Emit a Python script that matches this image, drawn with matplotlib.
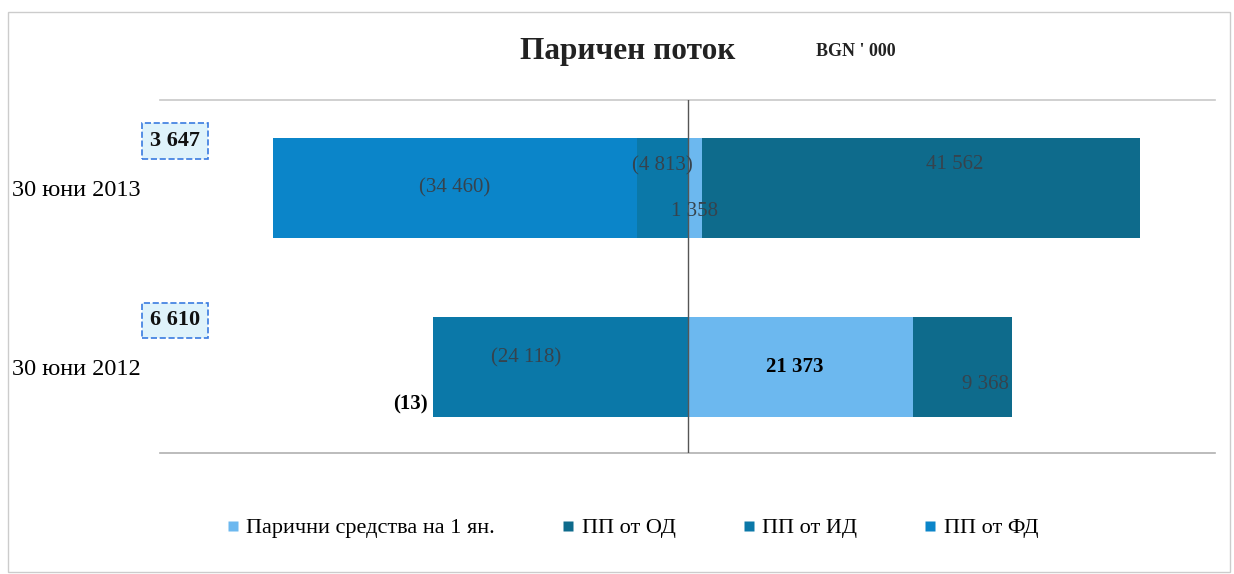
import numpy as np
import matplotlib.pyplot as plt
from matplotlib.lines import Line2D
from matplotlib.patches import Rectangle
import matplotlib.transforms as mtransforms

plt.rcParams['font.family'] = ['Liberation Serif', 'DejaVu Serif']

# data (BGN '000)
categories = ['30 юни 2012', '30 юни 2013']
series_names = ['Парични средства на 1 ян.', 'ПП от ОД', 'ПП от ИД', 'ПП от ФД']
cash_jan1 = [21373, 1358]
cf_operating = [9368, 41562]
cf_investing = [-24118, -4813]
cf_financing = [-13, -34460]
totals = [6610, 3647]

colors = ['#6cb8ef', '#0e6b8c', '#0b78a8', '#0b85c9']

# label tweaks: (dx in px, dy in category units, bold)
label_style = {
    (0, 0): (-5, 0.0, True), (0, 1): (0, -0.13, False),
    (1, 0): (23, -0.10, False), (1, 1): (34, 0.13, False),
    (2, 0): (-34, 0.05, False), (2, 1): (0, 0.12, False),
    (3, 0): (-22, -0.21, True), (3, 1): (0, 0.0, False),
}


def fmt(v):
    s = f"{abs(v):,}".replace(",", " ")
    return f"({s})" if v < 0 else s


fig = plt.figure(figsize=(12.34, 5.74), dpi=100)
ax = fig.add_axes([160/1234, 121/574, 1055/1234, 353/574])

y = np.arange(len(categories))
h = 0.56
all_series = [cash_jan1, cf_operating, cf_investing, cf_financing]
pos_left = np.zeros(len(categories))
neg_left = np.zeros(len(categories))
px = 1055 / 100000.0  # px per unit

for si, vals in enumerate(all_series):
    vals = np.array(vals, dtype=float)
    left = np.where(vals >= 0, pos_left, neg_left)
    ax.barh(y, vals, left=left, height=h, color=colors[si], edgecolor='none', zorder=2)
    for ci, v in enumerate(vals):
        dx, dy, bold = label_style[(si, ci)]
        cx = left[ci] + v / 2 + dx / px
        if si == 3 and ci == 0:
            # tiny segment: label sits just outside its end
            cx = left[ci] + v + dx / px
        ax.text(cx, y[ci] + dy, fmt(int(v)), ha='center', va='center',
                fontsize=15, fontweight='bold' if bold else 'normal',
                color='black' if bold else '#36434d', zorder=4)
    pos_left = pos_left + np.where(vals >= 0, vals, 0)
    neg_left = neg_left + np.where(vals < 0, vals, 0)

ax.set_xlim(-50000, 50000)
ax.set_ylim(-0.48, 1.49)
ax.axvline(0, color='#555555', lw=1.0, zorder=3)

ax.set_yticks(y)
ax.set_yticklabels(categories, fontsize=17.5)
ax.tick_params(axis='y', length=0, pad=14)
ax.set_xticks([])
for s in ['left', 'right']:
    ax.spines[s].set_visible(False)
ax.spines['top'].set_color('#c8c8c8')
ax.spines['bottom'].set_color('#b0b0b0')
ax.spines['top'].set_linewidth(1.2)
ax.spines['bottom'].set_linewidth(1.2)

# totals in boxes
trans = mtransforms.blended_transform_factory(ax.transAxes, ax.transData)
for ci, t in enumerate(totals):
    ax.text(15/1055, y[ci] + 0.26, fmt(t), transform=trans, ha='center', va='center',
            fontsize=16, fontweight='bold', color='#111111',
            bbox=dict(boxstyle='square,pad=0.35', facecolor='#dff3fb',
                      edgecolor='#3a7be0', linestyle='--', linewidth=1.2))

# title
fig.text(628/1234, 1 - 52/574, 'Паричен поток', ha='center', va='center',
         fontsize=22.5, fontweight='bold', color='#222222')
fig.text(856/1234, 1 - 52/574, "BGN ' 000", ha='center', va='center',
         fontsize=13, fontweight='bold', color='#222222')

# legend
handles = [Line2D([0], [0], marker='s', linestyle='none', markersize=7,
                  markerfacecolor=c, markeredgecolor='none') for c in colors]
fig.legend(handles, series_names, loc='center', bbox_to_anchor=(630/1234, 1 - 528/574),
           ncol=4, frameon=False, fontsize=16, handletextpad=0.1,
           columnspacing=2.8, handlelength=1.0)

# outer frame
fig.patches.append(Rectangle((8/1234, 2/574), 1222/1234, 560/574, transform=fig.transFigure,
                             fill=False, edgecolor='#cccccc', lw=1.0))

fig.savefig('out.png', dpi=100)
